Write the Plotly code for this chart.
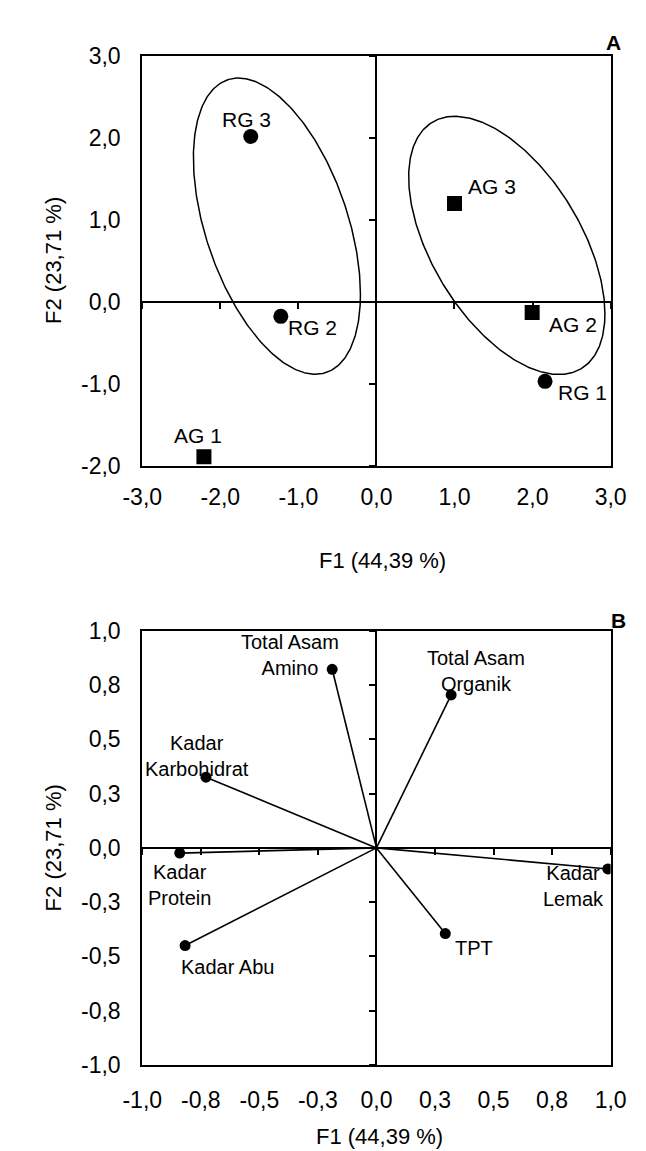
import numpy as np
import plotly.graph_objects as go

# ---------------- data ----------------
# Panel A : observations
obj_labels = ["RG 1", "RG 2", "RG 3", "AG 1", "AG 2", "AG 3"]
obj_group = ["RG", "RG", "RG", "AG", "AG", "AG"]
obj_f1 = [2.16, -1.225, -1.61, -2.21, 1.995, 1.0]
obj_f2 = [-0.97, -0.176, 2.02, -1.89, -0.13, 1.2]

# grouping ellipses (centre, half-width, half-height, tilt correlation)
ell_cx = [-1.275, 1.67]
ell_cy = [0.925, 0.69]
ell_w = [1.07, 1.257]
ell_h = [1.808, 1.576]
ell_rho = [-0.46, -0.53]

# Panel B : variables
var_labels = ["Total Asam<br>Amino", "Total Asam<br>Organik", "Kadar<br>Karbohidrat",
              "Kadar<br>Protein", "Kadar Abu", "TPT", "Kadar<br>Lemak"]
var_f1 = [-0.189, 0.319, -0.728, -0.84, -0.817, 0.294, 0.988]
var_f2 = [0.823, 0.705, 0.326, -0.024, -0.45, -0.395, -0.097]

# ticks
a_xticks = [-3, -2, -1, 0, 1, 2, 3]
a_xtext = ["-3,0", "-2,0", "-1,0", "0,0", "1,0", "2,0", "3,0"]
a_yticks = [-2, -1, 0, 1, 2, 3]
a_ytext = ["-2,0", "-1,0", "0,0", "1,0", "2,0", "3,0"]
b_ticks = [-1, -0.75, -0.5, -0.25, 0, 0.25, 0.5, 0.75, 1]
b_text = ["-1,0", "-0,8", "-0,5", "-0,3", "0,0", "0,3", "0,5", "0,8", "1,0"]

axis_x_title = "F1 (44,39 %)"
axis_y_title = "F2 (23,71 %)"

# ---------------- styling / layout ----------------
W, H = 646, 1151
FONT = "Liberation Sans, Arial, Helvetica, sans-serif"
xdom = [121 / W, 617 / W]
ydomA = [(H - 455) / H, (H - 36) / H]
ydomB = [(H - 1068) / H, (H - 624) / H]
a_xr, a_yr = [-3, 3], [-2, 3]
b_xr, b_yr = [-1, 1], [-1, 1]

def frac(v, r, dom):
    return dom[0] + (v - r[0]) / (r[1] - r[0]) * (dom[1] - dom[0])

# label offsets (pixels): xanchor, xshift, yshift
obj_lab_pos = [("left", 11, -11), ("left", 5, -11), ("center", -4, 17),
               ("center", -6, 21), ("left", 15, -12), ("left", 12, 17)]
var_lab_pos = [("right", 9, 14), ("center", 25, 24), ("center", -9, 21),
               ("center", 0, -32), ("left", -6, -21), ("left", 8, -14), ("center", -34, -17)]

fig = go.Figure()

# ellipses
t = np.linspace(0, 2 * np.pi, 361)
for cx, cy, ew, eh, r in zip(ell_cx, ell_cy, ell_w, ell_h, ell_rho):
    ex = cx + ew * np.cos(t)
    ey = cy + eh * (r * np.cos(t) + np.sqrt(1 - r * r) * np.sin(t))
    fig.add_trace(go.Scatter(x=ex, y=ey, mode="lines", line=dict(color="black", width=1.5),
                             showlegend=False, hoverinfo="skip", xaxis="x", yaxis="y"))

# observation points
sym = {"RG": "circle", "AG": "square"}
for g in ["RG", "AG"]:
    xs = [x for x, gg in zip(obj_f1, obj_group) if gg == g]
    ys = [y for y, gg in zip(obj_f2, obj_group) if gg == g]
    fig.add_trace(go.Scatter(x=xs, y=ys, mode="markers",
                             marker=dict(symbol=sym[g], size=15, color="black"),
                             showlegend=False, xaxis="x", yaxis="y"))

# variable vectors
vx, vy = [], []
for x, y in zip(var_f1, var_f2):
    vx += [0, x, None]
    vy += [0, y, None]
fig.add_trace(go.Scatter(x=vx, y=vy, mode="lines", line=dict(color="black", width=1.6),
                         showlegend=False, hoverinfo="skip", xaxis="x2", yaxis="y2"))
fig.add_trace(go.Scatter(x=var_f1, y=var_f2, mode="markers",
                         marker=dict(size=11, color="black"),
                         showlegend=False, xaxis="x2", yaxis="y2"))

# empty traces so that the cross axes are drawn
fig.add_trace(go.Scatter(x=[], y=[], xaxis="x3", yaxis="y3", showlegend=False))
fig.add_trace(go.Scatter(x=[], y=[], xaxis="x4", yaxis="y4", showlegend=False))

tickfont = dict(family=FONT, size=23, color="black")
box = dict(showline=True, linecolor="black", linewidth=2, mirror=True, showgrid=False,
           zeroline=False, ticks="outside", tickcolor="rgba(0,0,0,0)", tickfont=tickfont,
           fixedrange=True)
cross = dict(showline=True, linecolor="black", linewidth=2, showgrid=False, zeroline=False,
             ticks="outside", ticklen=6, tickwidth=2, tickcolor="black",
             showticklabels=False, anchor="free")

fig.update_layout(
    width=W, height=H, paper_bgcolor="white", plot_bgcolor="white",
    margin=dict(l=0, r=0, t=0, b=0), showlegend=False,
    font=dict(family=FONT, color="black"),
    xaxis=dict(box, domain=xdom, range=a_xr, anchor="y", tickvals=a_xticks, ticktext=a_xtext, ticklen=10),
    yaxis=dict(box, domain=ydomA, range=a_yr, anchor="x", tickvals=a_yticks, ticktext=a_ytext, ticklen=15),
    xaxis2=dict(box, domain=xdom, range=b_xr, anchor="y2", tickvals=b_ticks, ticktext=b_text, ticklen=14),
    yaxis2=dict(box, domain=ydomB, range=b_yr, anchor="x2", tickvals=b_ticks, ticktext=b_text, ticklen=15),
    xaxis3=dict(cross, overlaying="x", range=a_xr, tickvals=a_xticks,
                position=frac(0, a_yr, ydomA)),
    yaxis3=dict(cross, overlaying="y", range=a_yr, tickvals=a_yticks,
                position=frac(0, a_xr, xdom)),
    xaxis4=dict(cross, overlaying="x2", range=b_xr, tickvals=b_ticks,
                position=frac(0, b_yr, ydomB)),
    yaxis4=dict(cross, overlaying="y2", range=b_yr, tickvals=b_ticks,
                position=frac(0, b_xr, xdom)),
)

ann = []
labfont = dict(family=FONT, size=21, color="black")
for lab, x, y, (xa, xs, ys) in zip(obj_labels, obj_f1, obj_f2, obj_lab_pos):
    ann.append(dict(x=x, y=y, xref="x", yref="y", text=lab, showarrow=False,
                    xanchor=xa, yanchor="middle", xshift=xs, yshift=ys, font=labfont))
vfont = dict(family=FONT, size=20, color="black")
for lab, x, y, (xa, xs, ys) in zip(var_labels, var_f1, var_f2, var_lab_pos):
    ann.append(dict(x=x, y=y, xref="x2", yref="y2", text=lab, showarrow=False,
                    xanchor=xa, yanchor="middle", xshift=xs, yshift=ys, font=vfont, align="center"))

tfont = dict(family=FONT, size=22, color="black")
# axis titles
for xc, yc in [(375, 552), (372, 1141)]:
    ann.append(dict(x=xc / W, y=(H - yc) / H, xref="paper", yref="paper", text=axis_x_title,
                    showarrow=False, xanchor="center", yanchor="middle", font=tfont))
for xc, yc in [(27, 245), (27, 846)]:
    ann.append(dict(x=xc / W, y=(H - yc) / H, xref="paper", yref="paper", text=axis_y_title,
                    showarrow=False, xanchor="center", yanchor="middle", textangle=-90, font=tfont))
# panel letters
for txt, xc, yc in [("A", 620, 22), ("B", 625, 613)]:
    ann.append(dict(x=xc / W, y=(H - yc) / H, xref="paper", yref="paper", text="<b>%s</b>" % txt,
                    showarrow=False, xanchor="center", yanchor="middle",
                    font=dict(family=FONT, size=21, color="black")))
fig.update_layout(annotations=ann)

fig.write_html("out.html")
